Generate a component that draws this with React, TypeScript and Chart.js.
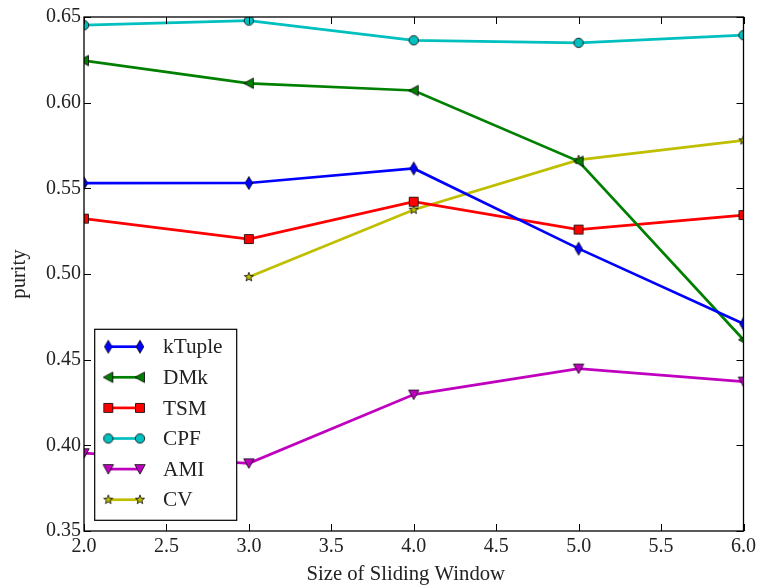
import { useEffect, useRef } from 'react';
import { Chart, registerables } from 'chart.js';

Chart.register(...registerables);

// Window sizes on the x axis
const windowSizes = [2, 3, 4, 5, 6];

// Purity per method
const kTupleValues = [0.553, 0.5531, 0.5616, 0.5148, 0.4709];
const dmkValues = [0.6246, 0.6113, 0.6071, 0.5658, 0.4616];
const tsmValues = [0.5323, 0.5204, 0.5422, 0.5259, 0.5344];
const cpfValues = [0.6452, 0.6479, 0.6364, 0.6349, 0.6394];
const amiValues = [0.3954, 0.3895, 0.4296, 0.4448, 0.4372];
const cvValues: (number | null)[] = [null, 0.4982, 0.5375, 0.5666, 0.578];

// Axis ticks
const xTickValues = [2.0, 2.5, 3.0, 3.5, 4.0, 4.5, 5.0, 5.5, 6.0];
const yTickValues = [0.35, 0.4, 0.45, 0.5, 0.55, 0.6, 0.65];

const X_TITLE = 'Size of Sliding Window';

const FONT = '"Liberation Serif", "DejaVu Serif", serif';
const TEXT_COLOR = '#222';

type Shape = 'thinDiamond' | 'triLeft' | 'square' | 'circle' | 'triDown' | 'star';

function makeMarker(shape: Shape, fill: string): HTMLCanvasElement {
  const size = 18;
  const c = document.createElement('canvas');
  c.width = size;
  c.height = size;
  const ctx = c.getContext('2d')!;
  ctx.translate(size / 2, size / 2);
  ctx.beginPath();
  switch (shape) {
    case 'circle':
      ctx.arc(0, 0, 4.7, 0, Math.PI * 2);
      break;
    case 'square':
      ctx.rect(-4.5, -4.5, 9, 9);
      break;
    case 'thinDiamond':
      ctx.moveTo(0, -6.5);
      ctx.lineTo(3.8, 0);
      ctx.lineTo(0, 6.5);
      ctx.lineTo(-3.8, 0);
      ctx.closePath();
      break;
    case 'triLeft':
      ctx.moveTo(-5, 0);
      ctx.lineTo(4.5, -5.2);
      ctx.lineTo(4.5, 5.2);
      ctx.closePath();
      break;
    case 'triDown':
      ctx.moveTo(-5.2, -4.5);
      ctx.lineTo(5.2, -4.5);
      ctx.lineTo(0, 5);
      ctx.closePath();
      break;
    case 'star': {
      const outer = 4.8;
      const inner = 2.0;
      for (let i = 0; i < 10; i++) {
        const r = i % 2 === 0 ? outer : inner;
        const a = -Math.PI / 2 + (i * Math.PI) / 5;
        const px = Math.cos(a) * r;
        const py = Math.sin(a) * r;
        if (i === 0) ctx.moveTo(px, py);
        else ctx.lineTo(px, py);
      }
      ctx.closePath();
      break;
    }
  }
  ctx.fillStyle = fill;
  ctx.fill();
  ctx.lineWidth = 0.8;
  ctx.strokeStyle = '#000';
  ctx.stroke();
  return c;
}

// Frame around the plot with inward-pointing ticks on all four sides
const framePlugin = {
  id: 'frameTicks',
  afterDatasetsDraw(chart: any) {
    const { ctx, chartArea: a, scales } = chart;
    const tickLen = 7;
    ctx.save();
    ctx.strokeStyle = '#000';
    ctx.lineWidth = 1;
    ctx.beginPath();
    for (const v of xTickValues) {
      const px = Math.round(scales.x.getPixelForValue(v)) + 0.5;
      ctx.moveTo(px, a.bottom);
      ctx.lineTo(px, a.bottom - tickLen);
      ctx.moveTo(px, a.top);
      ctx.lineTo(px, a.top + tickLen);
    }
    for (const v of yTickValues) {
      const py = Math.round(scales.y.getPixelForValue(v)) + 0.5;
      ctx.moveTo(a.left, py);
      ctx.lineTo(a.left + tickLen, py);
      ctx.moveTo(a.right, py);
      ctx.lineTo(a.right - tickLen, py);
    }
    ctx.stroke();
    ctx.lineWidth = 1.3;
    ctx.strokeRect(a.left, a.top, a.right - a.left, a.bottom - a.top);

    // x-axis title, set slightly left of the plot centre
    ctx.fillStyle = TEXT_COLOR;
    ctx.font = `20.7px ${FONT}`;
    ctx.textAlign = 'center';
    ctx.textBaseline = 'middle';
    ctx.fillText(X_TITLE, (a.left + a.right) / 2 - 8, 575);
    ctx.restore();
  },
};

// Boxed legend in the lower-left corner of the plot
const legendPlugin = {
  id: 'boxLegend',
  afterDraw(chart: any) {
    const { ctx, chartArea: a } = chart;
    const datasets = chart.data.datasets;
    const boxW = 142;
    const boxH = 191;
    const left = a.left + 10.7;
    const top = a.bottom - 10.7 - boxH;
    ctx.save();
    ctx.fillStyle = '#fff';
    ctx.fillRect(left, top, boxW, boxH);
    ctx.strokeStyle = '#000';
    ctx.lineWidth = 1.2;
    ctx.strokeRect(left, top, boxW, boxH);
    datasets.forEach((ds: any, i: number) => {
      const y = top + 17.4 + i * 30.6;
      const x1 = left + 13.6;
      const x2 = left + 45.3;
      ctx.strokeStyle = ds.borderColor;
      ctx.lineWidth = 2.7;
      ctx.beginPath();
      ctx.moveTo(x1, y);
      ctx.lineTo(x2, y);
      ctx.stroke();
      const m = ds.pointStyle as HTMLCanvasElement;
      ctx.drawImage(m, x1 - m.width / 2, y - m.height / 2);
      ctx.drawImage(m, x2 - m.width / 2, y - m.height / 2);
      ctx.fillStyle = TEXT_COLOR;
      ctx.font = `21.3px ${FONT}`;
      ctx.textBaseline = 'middle';
      ctx.textAlign = 'left';
      ctx.fillText(ds.label, left + 68.3, y + 1);
    });
    ctx.restore();
  },
};

export default function App() {
  const canvasRef = useRef<HTMLCanvasElement | null>(null);

  useEffect(() => {
    const canvas = canvasRef.current;
    if (!canvas) return;

    const series = [
      { label: 'kTuple', values: kTupleValues, color: '#0000ff', shape: 'thinDiamond' as Shape },
      { label: 'DMk', values: dmkValues, color: '#008000', shape: 'triLeft' as Shape },
      { label: 'TSM', values: tsmValues, color: '#ff0000', shape: 'square' as Shape },
      { label: 'CPF', values: cpfValues, color: '#00bfbf', shape: 'circle' as Shape },
      { label: 'AMI', values: amiValues, color: '#bf00bf', shape: 'triDown' as Shape },
      { label: 'CV', values: cvValues, color: '#bfbf00', shape: 'star' as Shape },
    ];

    const datasets = series.map((s) => ({
      label: s.label,
      data: windowSizes.map((x, i) => ({ x, y: s.values[i] })),
      borderColor: s.color,
      backgroundColor: s.color,
      borderWidth: 2.7,
      pointStyle: makeMarker(s.shape, s.color) as any,
      pointRadius: 5,
      pointHoverRadius: 5,
      tension: 0,
      spanGaps: false,
      clip: 0,
    }));

    const chart = new Chart(canvas, {
      type: 'line',
      data: { datasets: datasets as any },
      options: {
        animation: false,
        responsive: false,
        devicePixelRatio: 1,
        events: [],
        layout: { padding: { top: 17, right: 13, left: 0, bottom: 0 } },
        plugins: {
          legend: { display: false },
          tooltip: { enabled: false },
        },
        scales: {
          x: {
            type: 'linear',
            min: 2,
            max: 6,
            afterBuildTicks: (scale: any) => {
              scale.ticks = xTickValues.map((v) => ({ value: v }));
            },
            afterFit: (scale: any) => {
              scale.height = 57;
            },
            grid: { display: false, drawTicks: false },
            border: { display: false },
            ticks: {
              font: { family: FONT, size: 20 },
              color: TEXT_COLOR,
              padding: 4,
              maxRotation: 0,
              autoSkip: false,
              callback: (v: any) => Number(v).toFixed(1),
            },
            title: { display: false },
          },
          y: {
            type: 'linear',
            min: 0.35,
            max: 0.65,
            afterBuildTicks: (scale: any) => {
              scale.ticks = yTickValues.map((v) => ({ value: v }));
            },
            afterFit: (scale: any) => {
              scale.width = 84;
            },
            grid: { display: false, drawTicks: false },
            border: { display: false },
            ticks: {
              font: { family: FONT, size: 20 },
              color: TEXT_COLOR,
              padding: 3,
              autoSkip: false,
              callback: (v: any) => Number(v).toFixed(2),
            },
            title: {
              display: true,
              text: 'purity',
              font: { family: FONT, size: 20.7 },
              color: TEXT_COLOR,
              padding: { top: 7, bottom: 7 },
            },
          },
        },
      },
      plugins: [framePlugin, legendPlugin],
    });

    return () => chart.destroy();
  }, []);

  return (
    <div style={{ position: 'absolute', left: 0, top: 0, width: 760, height: 588, background: '#fff' }}>
      <canvas ref={canvasRef} width={760} height={588} style={{ width: 760, height: 588, display: 'block' }} />
    </div>
  );
}
